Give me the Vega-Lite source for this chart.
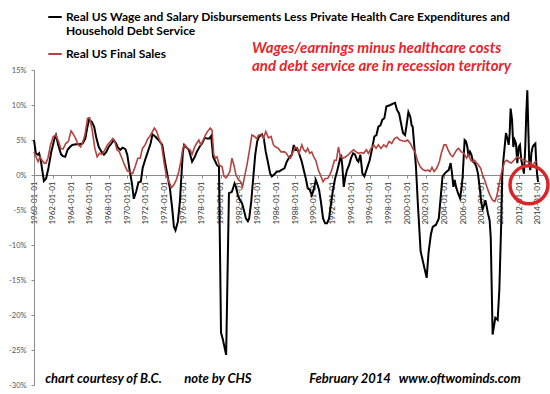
{
  "$schema": "https://vega.github.io/schema/vega-lite/v6.json",
  "width": 513,
  "height": 315,
  "autosize": {"type": "none"},
  "padding": {"left": 34, "top": 70, "right": 3, "bottom": 9},
  "background": "white",
  "config": {"view": {"stroke": null}},
  "title": {
    "text": ["Wages/earnings minus healthcare costs", "and debt service are in recession territory"],
    "anchor": "start",
    "frame": "group",
    "dx": 218,
    "dy": 69,
    "font": "Lato",
    "fontSize": 15,
    "fontStyle": "italic",
    "fontWeight": "bold",
    "color": "#e3262b",
    "lineHeight": 18.5
  },
  "datasets": {
    "wage": [
      {"year":1960.0,"pct":5.0},{"year":1960.2,"pct":3.1},{"year":1960.4,"pct":2.9},{"year":1960.55,"pct":3.1},{"year":1960.75,"pct":1.9},
      {"year":1961.06,"pct":-0.86},{"year":1961.3,"pct":-0.5},{"year":1961.55,"pct":1.0},{"year":1961.85,"pct":3.3},{"year":1962.2,"pct":5.2},
      {"year":1962.35,"pct":5.7},{"year":1962.6,"pct":4.3},{"year":1962.9,"pct":2.95},{"year":1963.1,"pct":2.7},{"year":1963.35,"pct":2.6},
      {"year":1963.6,"pct":3.6},{"year":1963.85,"pct":4.0},{"year":1964.1,"pct":4.3},{"year":1964.5,"pct":4.4},{"year":1964.85,"pct":4.4},
      {"year":1965.2,"pct":4.5},{"year":1965.5,"pct":5.2},{"year":1965.7,"pct":6.7},{"year":1965.9,"pct":7.9},{"year":1966.2,"pct":7.6},
      {"year":1966.45,"pct":6.9},{"year":1966.7,"pct":5.2},{"year":1966.95,"pct":4.0},{"year":1967.25,"pct":3.3},{"year":1967.5,"pct":2.9},
      {"year":1967.75,"pct":3.3},{"year":1968.0,"pct":4.0},{"year":1968.3,"pct":4.5},{"year":1968.55,"pct":5.0},{"year":1968.8,"pct":4.5},
      {"year":1969.0,"pct":3.9},{"year":1969.25,"pct":3.6},{"year":1969.5,"pct":3.9},{"year":1969.8,"pct":3.7},{"year":1970.0,"pct":2.9},
      {"year":1970.25,"pct":0.7},{"year":1970.5,"pct":-1.2},{"year":1970.7,"pct":-3.4},{"year":1970.95,"pct":-2.4},{"year":1971.2,"pct":-1.05},
      {"year":1971.45,"pct":-0.95},{"year":1971.65,"pct":1.0},{"year":1971.9,"pct":2.1},{"year":1972.2,"pct":3.3},{"year":1972.5,"pct":4.5},
      {"year":1972.7,"pct":5.8},{"year":1973.0,"pct":5.5},{"year":1973.35,"pct":5.0},{"year":1973.75,"pct":4.3},{"year":1974.04,"pct":1.9},
      {"year":1974.3,"pct":0.0},{"year":1974.57,"pct":-1.9},{"year":1974.82,"pct":-4.8},{"year":1975.0,"pct":-7.4},{"year":1975.17,"pct":-7.9},
      {"year":1975.42,"pct":-6.7},{"year":1975.64,"pct":-3.8},{"year":1975.81,"pct":0.0},{"year":1975.96,"pct":3.3},{"year":1976.1,"pct":4.3},
      {"year":1976.38,"pct":3.9},{"year":1976.6,"pct":3.6},{"year":1976.95,"pct":1.9},{"year":1977.24,"pct":2.6},{"year":1977.45,"pct":3.3},
      {"year":1977.74,"pct":4.0},{"year":1978.02,"pct":4.5},{"year":1978.3,"pct":5.3},{"year":1978.6,"pct":5.2},{"year":1978.8,"pct":5.2},
      {"year":1979.0,"pct":5.6},{"year":1979.2,"pct":2.6},{"year":1979.45,"pct":1.9},{"year":1979.62,"pct":1.4},{"year":1979.83,"pct":1.2},
      {"year":1980.05,"pct":-22.5},{"year":1980.25,"pct":-23.5},{"year":1980.6,"pct":-25.7},{"year":1980.9,"pct":-2.6},{"year":1981.22,"pct":-2.4},
      {"year":1981.5,"pct":-1.2},{"year":1981.65,"pct":-1.7},{"year":1981.86,"pct":-2.9},{"year":1982.08,"pct":-3.6},{"year":1982.29,"pct":-4.0},
      {"year":1982.5,"pct":-5.0},{"year":1982.72,"pct":-6.2},{"year":1982.93,"pct":-6.6},{"year":1983.07,"pct":-6.2},{"year":1983.29,"pct":-3.8},
      {"year":1983.5,"pct":-0.5},{"year":1983.72,"pct":2.9},{"year":1983.93,"pct":4.8},{"year":1984.14,"pct":5.5},{"year":1984.43,"pct":5.8},
      {"year":1984.64,"pct":5.2},{"year":1984.85,"pct":3.3},{"year":1985.07,"pct":1.9},{"year":1985.32,"pct":0.2},{"year":1985.5,"pct":-0.2},
      {"year":1985.78,"pct":0.1},{"year":1986.03,"pct":0.5},{"year":1986.28,"pct":0.5},{"year":1986.5,"pct":0.7},{"year":1986.85,"pct":0.95},
      {"year":1987.1,"pct":1.9},{"year":1987.4,"pct":2.6},{"year":1987.65,"pct":2.9},{"year":1987.85,"pct":4.3},{"year":1988.0,"pct":3.6},
      {"year":1988.21,"pct":3.8},{"year":1988.46,"pct":2.9},{"year":1988.71,"pct":1.9},{"year":1988.92,"pct":0.7},{"year":1989.14,"pct":-0.5},
      {"year":1989.35,"pct":-1.9},{"year":1989.56,"pct":-2.1},{"year":1989.78,"pct":-2.9},{"year":1989.99,"pct":-2.1},{"year":1990.21,"pct":-0.7},
      {"year":1990.35,"pct":-1.2},{"year":1990.56,"pct":-2.1},{"year":1990.78,"pct":-4.0},{"year":1990.99,"pct":-6.2},{"year":1991.21,"pct":-6.9},
      {"year":1991.42,"pct":-6.9},{"year":1991.64,"pct":-6.2},{"year":1991.85,"pct":-4.0},{"year":1992.06,"pct":-2.1},{"year":1992.28,"pct":-0.5},
      {"year":1992.49,"pct":0.5},{"year":1992.71,"pct":1.7},{"year":1992.92,"pct":2.9},{"year":1993.06,"pct":1.2},{"year":1993.21,"pct":-1.7},
      {"year":1993.39,"pct":-0.2},{"year":1993.56,"pct":0.7},{"year":1993.78,"pct":1.4},{"year":1993.99,"pct":2.4},{"year":1994.21,"pct":3.1},
      {"year":1994.42,"pct":2.9},{"year":1994.64,"pct":2.1},{"year":1994.78,"pct":1.9},{"year":1994.99,"pct":2.9},{"year":1995.21,"pct":0.2},
      {"year":1995.42,"pct":-0.2},{"year":1995.64,"pct":0.7},{"year":1995.99,"pct":2.1},{"year":1996.28,"pct":4.0},{"year":1996.49,"pct":5.5},
      {"year":1996.71,"pct":5.7},{"year":1996.92,"pct":6.9},{"year":1997.14,"pct":7.1},{"year":1997.35,"pct":7.9},{"year":1997.56,"pct":8.1},
      {"year":1997.78,"pct":9.8},{"year":1997.99,"pct":9.9},{"year":1998.21,"pct":10.0},{"year":1998.49,"pct":10.2},{"year":1998.71,"pct":10.3},
      {"year":1998.92,"pct":9.3},{"year":1999.14,"pct":8.8},{"year":1999.35,"pct":7.4},{"year":1999.56,"pct":6.0},{"year":1999.78,"pct":5.7},
      {"year":1999.92,"pct":6.9},{"year":2000.14,"pct":9.0},{"year":2000.35,"pct":8.3},{"year":2000.49,"pct":7.1},{"year":2000.6,"pct":6.9},
      {"year":2000.78,"pct":4.0},{"year":2000.95,"pct":1.2},{"year":2001.15,"pct":-4.0},{"year":2001.45,"pct":-10.9},{"year":2002.1,"pct":-14.7},
      {"year":2002.3,"pct":-11.1},{"year":2002.55,"pct":-8.5},{"year":2002.75,"pct":-7.4},{"year":2003.1,"pct":-7.1},{"year":2003.4,"pct":-6.2},
      {"year":2003.8,"pct":-0.2},{"year":2004.03,"pct":0.2},{"year":2004.25,"pct":0.5},{"year":2004.46,"pct":0.7},{"year":2004.67,"pct":1.7},
      {"year":2004.82,"pct":0.2},{"year":2004.96,"pct":-1.7},{"year":2005.1,"pct":-0.7},{"year":2005.25,"pct":-1.7},{"year":2005.46,"pct":-2.6},
      {"year":2005.67,"pct":-3.3},{"year":2005.82,"pct":-2.1},{"year":2005.96,"pct":-0.2},{"year":2006.07,"pct":2.6},{"year":2006.17,"pct":5.0},
      {"year":2006.32,"pct":4.8},{"year":2006.46,"pct":4.0},{"year":2006.6,"pct":2.6},{"year":2006.75,"pct":3.3},{"year":2006.89,"pct":2.9},
      {"year":2007.07,"pct":1.9},{"year":2007.25,"pct":1.7},{"year":2007.42,"pct":1.2},{"year":2007.6,"pct":0.2},{"year":2007.78,"pct":-1.7},
      {"year":2007.96,"pct":-4.0},{"year":2008.1,"pct":-4.8},{"year":2008.25,"pct":-4.3},{"year":2008.39,"pct":-3.6},{"year":2008.53,"pct":-4.5},
      {"year":2008.67,"pct":-5.5},{"year":2008.85,"pct":-6.5},{"year":2008.97,"pct":-9.0},{"year":2009.17,"pct":-22.8},{"year":2009.46,"pct":-20.4},
      {"year":2009.71,"pct":-20.7},{"year":2009.89,"pct":-16.4},{"year":2010.1,"pct":-6.4},{"year":2010.2,"pct":-0.2},{"year":2010.32,"pct":2.1},
      {"year":2010.46,"pct":4.0},{"year":2010.6,"pct":6.0},{"year":2010.75,"pct":5.2},{"year":2010.89,"pct":4.3},{"year":2011.0,"pct":6.0},
      {"year":2011.1,"pct":9.5},{"year":2011.25,"pct":7.9},{"year":2011.39,"pct":4.0},{"year":2011.53,"pct":5.0},{"year":2011.67,"pct":4.5},
      {"year":2011.82,"pct":1.7},{"year":2011.96,"pct":4.0},{"year":2012.1,"pct":4.3},{"year":2012.25,"pct":2.1},{"year":2012.39,"pct":1.2},
      {"year":2012.53,"pct":0.2},{"year":2012.67,"pct":4.0},{"year":2012.78,"pct":8.8},{"year":2012.89,"pct":12.1},{"year":2013.0,"pct":6.4},
      {"year":2013.1,"pct":1.7},{"year":2013.21,"pct":0.7},{"year":2013.32,"pct":3.1},{"year":2013.46,"pct":4.0},{"year":2013.6,"pct":4.3},
      {"year":2013.75,"pct":4.5},{"year":2013.85,"pct":1.7},{"year":2013.96,"pct":-0.2},{"year":2014.05,"pct":-1.0}
    ],
    "sales": [
      {"year":1960.0,"pct":3.3},{"year":1960.21,"pct":2.6},{"year":1960.43,"pct":1.9},{"year":1960.64,"pct":2.6},{"year":1960.85,"pct":2.1},
      {"year":1961.1,"pct":1.7},{"year":1961.28,"pct":1.7},{"year":1961.49,"pct":2.4},{"year":1961.77,"pct":4.3},{"year":1962.06,"pct":5.5},
      {"year":1962.34,"pct":5.7},{"year":1962.62,"pct":4.8},{"year":1962.87,"pct":3.8},{"year":1963.12,"pct":3.7},{"year":1963.4,"pct":4.5},
      {"year":1963.69,"pct":4.8},{"year":1963.97,"pct":6.3},{"year":1964.18,"pct":5.9},{"year":1964.47,"pct":5.2},{"year":1964.75,"pct":4.3},
      {"year":1965.0,"pct":4.0},{"year":1965.25,"pct":4.8},{"year":1965.46,"pct":5.7},{"year":1965.74,"pct":8.1},{"year":1965.96,"pct":8.2},
      {"year":1966.24,"pct":6.4},{"year":1966.52,"pct":3.8},{"year":1966.77,"pct":2.6},{"year":1967.02,"pct":3.1},{"year":1967.3,"pct":2.95},
      {"year":1967.59,"pct":3.6},{"year":1967.87,"pct":4.3},{"year":1968.19,"pct":4.8},{"year":1968.44,"pct":5.2},{"year":1968.65,"pct":4.8},
      {"year":1968.9,"pct":3.6},{"year":1969.15,"pct":3.3},{"year":1969.43,"pct":2.4},{"year":1969.72,"pct":1.4},{"year":1970.0,"pct":0.6},
      {"year":1970.32,"pct":0.4},{"year":1970.57,"pct":0.2},{"year":1970.85,"pct":1.2},{"year":1971.13,"pct":2.4},{"year":1971.38,"pct":2.4},
      {"year":1971.63,"pct":3.8},{"year":1971.91,"pct":4.3},{"year":1972.2,"pct":5.2},{"year":1972.41,"pct":5.5},{"year":1972.91,"pct":6.7},
      {"year":1973.16,"pct":6.2},{"year":1973.4,"pct":5.2},{"year":1973.68,"pct":4.3},{"year":1973.93,"pct":1.9},{"year":1974.18,"pct":0.0},
      {"year":1974.46,"pct":-0.95},{"year":1974.75,"pct":-1.8},{"year":1975.0,"pct":-1.4},{"year":1975.25,"pct":-0.7},{"year":1975.53,"pct":0.5},
      {"year":1975.74,"pct":1.9},{"year":1975.96,"pct":3.8},{"year":1976.17,"pct":4.3},{"year":1976.46,"pct":3.8},{"year":1976.74,"pct":3.6},
      {"year":1976.95,"pct":2.95},{"year":1977.17,"pct":3.8},{"year":1977.38,"pct":4.4},{"year":1977.67,"pct":5.0},{"year":1977.88,"pct":4.3},
      {"year":1978.09,"pct":4.8},{"year":1978.38,"pct":5.7},{"year":1978.59,"pct":6.2},{"year":1978.91,"pct":6.7},{"year":1979.09,"pct":6.4},
      {"year":1979.27,"pct":2.9},{"year":1979.44,"pct":2.4},{"year":1979.62,"pct":2.6},{"year":1979.87,"pct":1.4},{"year":1980.16,"pct":1.2},
      {"year":1980.37,"pct":-0.2},{"year":1980.58,"pct":-0.4},{"year":1980.8,"pct":0.0},{"year":1981.0,"pct":0.5},{"year":1981.22,"pct":2.4},
      {"year":1981.44,"pct":1.4},{"year":1981.65,"pct":0.0},{"year":1981.94,"pct":-0.7},{"year":1982.15,"pct":-0.95},{"year":1982.36,"pct":-1.7},
      {"year":1982.58,"pct":-0.2},{"year":1982.83,"pct":1.4},{"year":1983.07,"pct":3.3},{"year":1983.36,"pct":5.7},{"year":1983.64,"pct":5.5},
      {"year":1983.89,"pct":5.2},{"year":1984.07,"pct":5.7},{"year":1984.36,"pct":5.8},{"year":1984.6,"pct":5.2},{"year":1984.85,"pct":6.2},
      {"year":1985.14,"pct":5.3},{"year":1985.42,"pct":5.5},{"year":1985.67,"pct":4.3},{"year":1985.92,"pct":4.0},{"year":1986.2,"pct":3.8},
      {"year":1986.49,"pct":3.3},{"year":1986.85,"pct":3.3},{"year":1987.06,"pct":3.1},{"year":1987.28,"pct":2.6},{"year":1987.49,"pct":2.4},
      {"year":1987.71,"pct":3.1},{"year":1988.0,"pct":4.0},{"year":1988.21,"pct":3.8},{"year":1988.42,"pct":3.1},{"year":1988.71,"pct":4.3},
      {"year":1988.92,"pct":3.6},{"year":1989.14,"pct":3.3},{"year":1989.35,"pct":3.8},{"year":1989.56,"pct":3.1},{"year":1989.78,"pct":3.3},
      {"year":1989.99,"pct":2.6},{"year":1990.21,"pct":2.1},{"year":1990.49,"pct":0.7},{"year":1990.71,"pct":0.0},{"year":1990.99,"pct":-0.95},
      {"year":1991.21,"pct":-0.5},{"year":1991.49,"pct":-0.5},{"year":1991.71,"pct":0.0},{"year":1991.92,"pct":0.7},{"year":1992.21,"pct":2.1},
      {"year":1992.42,"pct":2.1},{"year":1992.64,"pct":4.0},{"year":1992.85,"pct":2.6},{"year":1993.14,"pct":2.4},{"year":1993.42,"pct":2.6},
      {"year":1993.71,"pct":2.9},{"year":1993.99,"pct":3.3},{"year":1994.28,"pct":3.6},{"year":1994.53,"pct":3.3},{"year":1994.78,"pct":3.1},
      {"year":1995.06,"pct":3.2},{"year":1995.35,"pct":3.1},{"year":1995.64,"pct":3.6},{"year":1995.85,"pct":3.1},{"year":1996.14,"pct":3.8},
      {"year":1996.42,"pct":4.3},{"year":1996.67,"pct":3.8},{"year":1996.92,"pct":4.3},{"year":1997.21,"pct":3.8},{"year":1997.49,"pct":4.3},
      {"year":1997.78,"pct":4.0},{"year":1998.06,"pct":4.8},{"year":1998.35,"pct":4.5},{"year":1998.64,"pct":5.2},{"year":1998.92,"pct":5.4},
      {"year":1999.21,"pct":5.0},{"year":1999.49,"pct":4.9},{"year":1999.78,"pct":4.8},{"year":2000.06,"pct":5.0},{"year":2000.35,"pct":4.5},
      {"year":2000.6,"pct":3.8},{"year":2000.85,"pct":3.3},{"year":2001.1,"pct":2.1},{"year":2001.39,"pct":1.2},{"year":2001.67,"pct":0.8},
      {"year":2001.96,"pct":0.6},{"year":2002.25,"pct":0.7},{"year":2002.46,"pct":0.5},{"year":2002.67,"pct":1.1},{"year":2002.89,"pct":0.5},
      {"year":2003.17,"pct":0.95},{"year":2003.46,"pct":1.9},{"year":2003.67,"pct":3.1},{"year":2003.96,"pct":4.3},{"year":2004.17,"pct":4.3},
      {"year":2004.39,"pct":3.6},{"year":2004.67,"pct":2.9},{"year":2004.89,"pct":2.6},{"year":2005.1,"pct":3.1},{"year":2005.32,"pct":3.6},
      {"year":2005.53,"pct":3.8},{"year":2005.82,"pct":3.3},{"year":2006.1,"pct":3.1},{"year":2006.39,"pct":2.4},{"year":2006.6,"pct":2.9},
      {"year":2006.82,"pct":2.1},{"year":2007.03,"pct":1.9},{"year":2007.25,"pct":2.1},{"year":2007.46,"pct":1.7},{"year":2007.67,"pct":1.4},
      {"year":2007.89,"pct":0.95},{"year":2008.1,"pct":0.0},{"year":2008.32,"pct":-0.7},{"year":2008.6,"pct":-1.9},{"year":2008.89,"pct":-2.9},
      {"year":2009.17,"pct":-3.6},{"year":2009.39,"pct":-3.8},{"year":2009.6,"pct":-3.1},{"year":2009.82,"pct":-1.7},{"year":2010.03,"pct":-0.2},
      {"year":2010.25,"pct":0.95},{"year":2010.46,"pct":1.9},{"year":2010.67,"pct":2.1},{"year":2010.89,"pct":1.9},{"year":2011.17,"pct":1.7},
      {"year":2011.46,"pct":2.1},{"year":2011.67,"pct":2.4},{"year":2011.89,"pct":2.6},{"year":2012.1,"pct":2.4},{"year":2012.39,"pct":2.2},
      {"year":2012.6,"pct":2.1},{"year":2012.89,"pct":1.9},{"year":2013.17,"pct":1.8},{"year":2013.46,"pct":1.4},{"year":2013.75,"pct":1.9},
      {"year":2013.89,"pct":1.9}
    ],
    "notes": [
      {"note":"chart courtesy of B.C.","year":1961.2,"pct":-29.2},
      {"note":"note by CHS","year":1976.1,"pct":-29.2},
      {"note":"February 2014","year":1989.5,"pct":-29.2},
      {"note":"www.oftwominds.com","year":1999.1,"pct":-29.2}
    ],
    "highlight": [
      {"year":2013.07,"pct":-1.4}
    ]
  },
  "encoding": {
    "x": {
      "field": "year",
      "type": "quantitative",
      "scale": {"domain": [1960, 2015], "nice": false, "zero": false},
      "axis": {
        "title": null,
        "grid": false,
        "values": [1960,1962,1964,1966,1968,1970,1972,1974,1976,1978,1980,1982,1984,1986,1988,1990,1992,1994,1996,1998,2000,2002,2004,2006,2008,2010,2012,2014],
        "labelExpr": "datum.value + '-01-01'",
        "labelAngle": 270,
        "labelFont": "Lato",
        "labelFontSize": 8,
        "labelColor": "#333333",
        "labelPadding": 3,
        "domainColor": "#8c8c8c",
        "tickColor": "#8c8c8c",
        "tickSize": 3,
        "offset": {"expr": "scale('y', 0) - height"}
      }
    },
    "y": {
      "field": "pct",
      "type": "quantitative",
      "scale": {"domain": [-30, 15], "nice": false},
      "axis": {
        "title": null,
        "grid": false,
        "values": [-30,-25,-20,-15,-10,-5,0,5,10,15],
        "labelExpr": "datum.value + '%'",
        "labelFont": "Lato",
        "labelFontSize": 7.5,
        "labelColor": "#555555",
        "labelPadding": 5,
        "domainColor": "#8c8c8c",
        "tickColor": "#8c8c8c",
        "tickSize": 3
      }
    }
  },
  "layer": [
    {
      "data": {"name": "wage"},
      "mark": {"type": "line", "strokeWidth": 2, "interpolate": "linear"},
      "encoding": {
        "color": {
          "datum": "Real US Wage and Salary Disbursements Less Private Health Care Expenditures and Household Debt Service",
          "type": "nominal",
          "scale": {
            "domain": ["Real US Wage and Salary Disbursements Less Private Health Care Expenditures and Household Debt Service", "Real US Final Sales"],
            "range": ["#000000", "#b5423f"]
          },
          "legend": {
            "title": null,
            "orient": "none",
            "legendX": 13,
            "legendY": -61,
            "symbolType": "stroke",
            "symbolSize": 180,
            "symbolStrokeWidth": 2,
            "labelFont": "Lato",
            "labelFontWeight": "bold",
            "labelFontSize": 12,
            "labelColor": "#000000",
            "labelLimit": 0,
            "labelOffset": 3,
            "rowPadding": 9,
            "labelExpr": "datum.label == 'Real US Final Sales' ? datum.label : ['Real US Wage and Salary Disbursements Less Private Health Care Expenditures and', 'Household Debt Service']"
          }
        }
      }
    },
    {
      "data": {"name": "sales"},
      "mark": {"type": "line", "strokeWidth": 1.6, "interpolate": "linear"},
      "encoding": {
        "color": {"datum": "Real US Final Sales", "type": "nominal"}
      }
    },
    {
      "data": {"name": "notes"},
      "mark": {"type": "text", "align": "left", "baseline": "middle", "font": "Lato", "fontSize": 13, "fontStyle": "italic", "fontWeight": "bold", "color": "#000000"},
      "encoding": {
        "text": {"field": "note"}
      }
    },
    {
      "data": {"name": "highlight"},
      "mark": {"type": "point", "shape": "circle", "filled": false, "size": 1444, "strokeWidth": 3.5, "stroke": "#dc2327", "opacity": 1}
    }
  ]
}
